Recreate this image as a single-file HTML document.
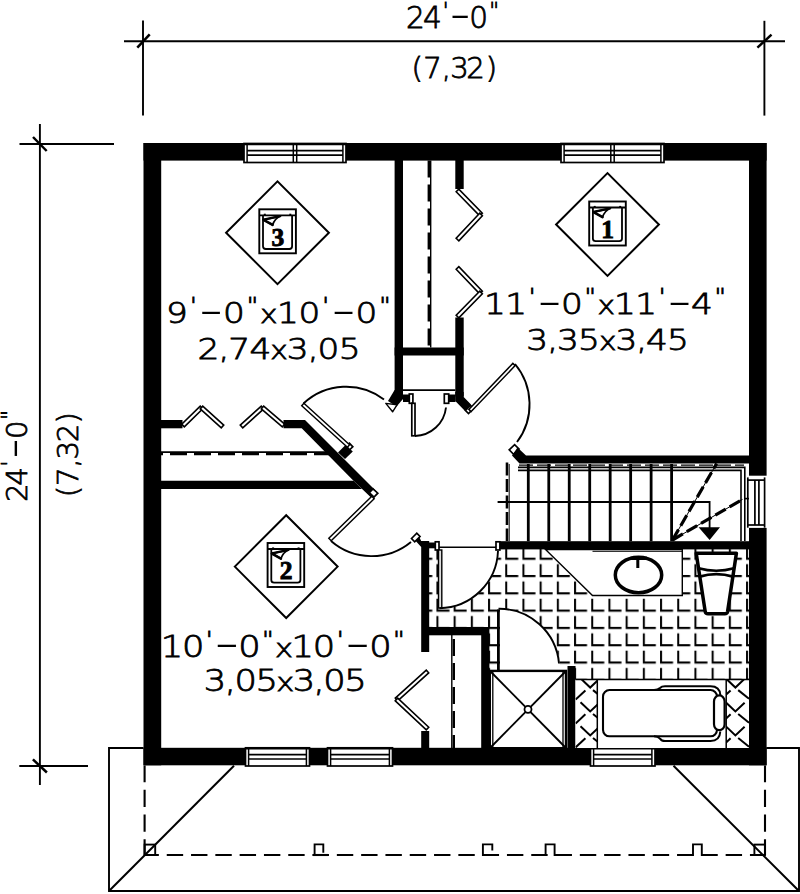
<!DOCTYPE html>
<html><head><meta charset="utf-8"><title>Floor plan</title>
<style>
html,body{margin:0;padding:0;background:#fff;}
svg{display:block;}
.t{font-family:"DejaVu Sans Light","DejaVu Sans","Liberation Sans",sans-serif;font-weight:200;fill:#000;stroke:#000;stroke-width:0.8;}
.n{font-family:"Liberation Serif",serif;font-weight:bold;fill:#000;}
</style></head><body>
<svg width="800" height="894" viewBox="0 0 800 894">
<rect x="0" y="0" width="800" height="894" fill="#fff"/>
<line x1="124" y1="41.2" x2="785" y2="41.2" stroke="#000" stroke-width="1.9" />
<line x1="143" y1="20.5" x2="143" y2="115.5" stroke="#000" stroke-width="1.9" />
<line x1="764.4" y1="20.8" x2="764.4" y2="115.6" stroke="#000" stroke-width="1.9" />
<line x1="137.3" y1="47.7" x2="149.7" y2="34.4" stroke="#000" stroke-width="2.5" />
<line x1="757.4" y1="47.7" x2="771.5" y2="34.6" stroke="#000" stroke-width="2.5" />
<line x1="39.9" y1="124" x2="39.9" y2="785" stroke="#000" stroke-width="1.9" />
<line x1="19.5" y1="144" x2="114" y2="144" stroke="#000" stroke-width="1.9" />
<line x1="19.3" y1="766" x2="88" y2="766" stroke="#000" stroke-width="1.9" />
<line x1="33" y1="137" x2="46.7" y2="151" stroke="#000" stroke-width="2.5" />
<line x1="32.9" y1="759.4" x2="46.9" y2="772.5" stroke="#000" stroke-width="2.5" />
<rect x="143.5" y="143" width="100.5" height="17.6" fill="#000" />
<rect x="346" y="143" width="215" height="17.6" fill="#000" />
<rect x="664" y="143" width="102.6" height="17.6" fill="#000" />
<rect x="143.5" y="747.8" width="102" height="17.5" fill="#000" />
<rect x="309.5" y="747.8" width="18" height="17.5" fill="#000" />
<rect x="392.5" y="747.8" width="198" height="17.5" fill="#000" />
<rect x="655" y="747.8" width="111.6" height="17.5" fill="#000" />
<rect x="143.5" y="143" width="17.7" height="622.3" fill="#000" />
<rect x="749" y="143" width="17.6" height="332.7" fill="#000" />
<rect x="749" y="527.9" width="17.6" height="237.4" fill="#000" />
<rect x="244" y="143.5" width="102" height="19" fill="#fff" stroke="#000" stroke-width="1.7" />
<line x1="244" y1="144.1" x2="346" y2="144.1" stroke="#000" stroke-width="2.4" />
<line x1="247.1" y1="143.5" x2="247.1" y2="162.5" stroke="#000" stroke-width="1.5" />
<line x1="342.9" y1="143.5" x2="342.9" y2="162.5" stroke="#000" stroke-width="1.5" />
<line x1="247.1" y1="150.625" x2="342.9" y2="150.625" stroke="#000" stroke-width="1.7" />
<line x1="247.1" y1="155.185" x2="342.9" y2="155.185" stroke="#000" stroke-width="1.7" />
<line x1="293.3" y1="143.5" x2="293.3" y2="162.5" stroke="#000" stroke-width="1.5" />
<line x1="296.7" y1="143.5" x2="296.7" y2="162.5" stroke="#000" stroke-width="1.5" />
<rect x="561" y="143.5" width="103" height="19" fill="#fff" stroke="#000" stroke-width="1.7" />
<line x1="561" y1="144.1" x2="664" y2="144.1" stroke="#000" stroke-width="2.4" />
<line x1="564.1" y1="143.5" x2="564.1" y2="162.5" stroke="#000" stroke-width="1.5" />
<line x1="660.9" y1="143.5" x2="660.9" y2="162.5" stroke="#000" stroke-width="1.5" />
<line x1="564.1" y1="150.625" x2="660.9" y2="150.625" stroke="#000" stroke-width="1.7" />
<line x1="564.1" y1="155.185" x2="660.9" y2="155.185" stroke="#000" stroke-width="1.7" />
<line x1="610.8" y1="143.5" x2="610.8" y2="162.5" stroke="#000" stroke-width="1.5" />
<line x1="614.2" y1="143.5" x2="614.2" y2="162.5" stroke="#000" stroke-width="1.5" />
<rect x="245.5" y="747.8" width="64" height="18.2" fill="#fff" stroke="#000" stroke-width="1.7" />
<line x1="245.5" y1="748.4" x2="309.5" y2="748.4" stroke="#000" stroke-width="2.4" />
<line x1="248.6" y1="747.8" x2="248.6" y2="766" stroke="#000" stroke-width="1.5" />
<line x1="306.4" y1="747.8" x2="306.4" y2="766" stroke="#000" stroke-width="1.5" />
<line x1="248.6" y1="754.625" x2="306.4" y2="754.625" stroke="#000" stroke-width="1.7" />
<line x1="248.6" y1="758.993" x2="306.4" y2="758.993" stroke="#000" stroke-width="1.7" />
<rect x="327.5" y="747.8" width="65" height="18.2" fill="#fff" stroke="#000" stroke-width="1.7" />
<line x1="327.5" y1="748.4" x2="392.5" y2="748.4" stroke="#000" stroke-width="2.4" />
<line x1="330.6" y1="747.8" x2="330.6" y2="766" stroke="#000" stroke-width="1.5" />
<line x1="389.4" y1="747.8" x2="389.4" y2="766" stroke="#000" stroke-width="1.5" />
<line x1="330.6" y1="754.625" x2="389.4" y2="754.625" stroke="#000" stroke-width="1.7" />
<line x1="330.6" y1="758.993" x2="389.4" y2="758.993" stroke="#000" stroke-width="1.7" />
<rect x="590.5" y="747.8" width="64.5" height="18.2" fill="#fff" stroke="#000" stroke-width="1.7" />
<line x1="590.5" y1="748.4" x2="655" y2="748.4" stroke="#000" stroke-width="2.4" />
<line x1="593.6" y1="747.8" x2="593.6" y2="766" stroke="#000" stroke-width="1.5" />
<line x1="651.9" y1="747.8" x2="651.9" y2="766" stroke="#000" stroke-width="1.5" />
<line x1="593.6" y1="754.625" x2="651.9" y2="754.625" stroke="#000" stroke-width="1.7" />
<line x1="593.6" y1="758.993" x2="651.9" y2="758.993" stroke="#000" stroke-width="1.7" />
<line x1="747.8" y1="477.4" x2="747.8" y2="527.7" stroke="#000" stroke-width="1.7" />
<line x1="764.6" y1="477.4" x2="764.6" y2="527.7" stroke="#000" stroke-width="1.7" />
<line x1="747.8" y1="480.1" x2="764.6" y2="480.1" stroke="#000" stroke-width="1.7" />
<line x1="747.8" y1="525" x2="764.6" y2="525" stroke="#000" stroke-width="1.7" />
<line x1="754.9" y1="480.1" x2="754.9" y2="525" stroke="#000" stroke-width="1.7" />
<line x1="758.9" y1="480.1" x2="758.9" y2="525" stroke="#000" stroke-width="1.7" />
<rect x="394.6" y="160" width="8.4" height="237.5" fill="#000" />
<rect x="455.3" y="160" width="8.4" height="29" fill="#000" />
<rect x="455.3" y="317.5" width="8.4" height="79" fill="#000" />
<rect x="394.6" y="347.5" width="69.1" height="8" fill="#000" />
<line x1="430.7" y1="160.6" x2="430.7" y2="347.5" stroke="#000" stroke-width="1.4" />
<line x1="428.8" y1="160.6" x2="428.8" y2="347.5" stroke="#000" stroke-width="2.4" stroke-dasharray="17 7"/>
<line x1="403" y1="390.2" x2="455.3" y2="390.2" stroke="#000" stroke-width="1.8" />
<polygon points="456.178,191.794 479.678,215.794 482.322,213.206 458.822,189.206" fill="#fff" stroke="#000" stroke-width="1.6" />
<polygon points="479.652,213.233 456.152,238.233 458.848,240.767 482.348,215.767" fill="#fff" stroke="#000" stroke-width="1.6" />
<polygon points="456.165,269.281 479.665,293.781 482.335,291.219 458.835,266.719" fill="#fff" stroke="#000" stroke-width="1.6" />
<polygon points="479.678,291.206 456.178,315.206 458.822,317.794 482.322,293.794" fill="#fff" stroke="#000" stroke-width="1.6" />
<rect x="161" y="420" width="21.5" height="8.3" fill="#000" />
<polygon points="184.29,426.826 202.79,408.826 200.21,406.174 181.71,424.174" fill="#fff" stroke="#000" stroke-width="1.6" />
<polygon points="200.259,408.872 221.259,427.872 223.741,425.128 202.741,406.128" fill="#fff" stroke="#000" stroke-width="1.6" />
<polygon points="242.741,427.872 263.741,408.872 261.259,406.128 240.259,425.128" fill="#fff" stroke="#000" stroke-width="1.6" />
<polygon points="261.296,408.905 282.296,426.905 284.704,424.095 263.704,406.095" fill="#fff" stroke="#000" stroke-width="1.6" />
<polygon points="283.5,420 305,420 377,492 371,497.5 353.5,480.7 301.7,428.3 283.5,428.3" fill="#000" />
<line x1="161" y1="452.2" x2="329" y2="452.2" stroke="#000" stroke-width="1.8" />
<line x1="161" y1="454.2" x2="329" y2="454.2" stroke="#000" stroke-width="2.2" stroke-dasharray="17 7" stroke-dashoffset="-9"/>
<polygon points="161,480.7 353.5,480.7 362,489 161,489" fill="#000" />
<polygon points="338,452.5 345.5,445 352.8,451.5 345,459" fill="#000" />
<polygon points="346.2,446.2 349.6,449.8 352.8,446.8 349.4,443.2" fill="#fff" stroke="#000" stroke-width="1.7" />
<polygon points="301.724,405.684 347.424,447.184 349.576,444.816 303.876,403.316" fill="#fff" stroke="#000" stroke-width="1.45" />
<path d="M303.5 403.5 A62.5 62.5 0 0 1 384 399.5" fill="none" stroke="#000" stroke-width="1.9" />
<polygon points="394.6,390 403,390 403,399 396.5,406.5 388,401" fill="#000" />
<polygon points="385.8,403.4 397,404.8 392.6,411.8" fill="#fff" stroke="#000" stroke-width="1.4" stroke-linejoin="round"/>
<polygon points="373,488.8 377.8,493.2 374,497 369.3,492.6" fill="#fff" stroke="#000" stroke-width="1.7" />
<polygon points="371.812,496.284 328.812,538.284 331.188,540.716 374.188,498.716" fill="#fff" stroke="#000" stroke-width="1.45" />
<path d="M331 541 A62 62 0 0 0 411 542" fill="none" stroke="#000" stroke-width="1.9" />
<polygon points="421.2,541 429.2,541 429.2,652 421.2,652 421.2,547 413,538 417.5,533.5" fill="#000" />
<polygon points="411.5,538.5 416.8,533.2 420,536.5 414.7,541.8" fill="#fff" stroke="#000" stroke-width="1.7" />
<rect x="403" y="394.5" width="6.3" height="7.5" fill="#000" />
<rect x="448.7" y="394.5" width="6.8" height="7.5" fill="#000" />
<rect x="409.3" y="394" width="3.6" height="9.3" fill="#fff" stroke="#000" stroke-width="1.7" />
<rect x="444.3" y="394" width="4.4" height="9.3" fill="#fff" stroke="#000" stroke-width="1.7" />
<rect x="411.8" y="403.3" width="3.2" height="32.5" fill="#fff" stroke="#000" stroke-width="1.7" />
<path d="M415 436 A32 32 0 0 0 446 407.5" fill="none" stroke="#000" stroke-width="1.9" />
<polygon points="455.3,392 463.7,392 463.7,397 471,404.5 465,411 455.3,401" fill="#000" />
<polygon points="465.5,410.5 470.5,405.5 473.5,408.5 468.5,413.5" fill="#fff" stroke="#000" stroke-width="1.7" />
<polygon points="471.156,411.606 515.156,365.606 512.844,363.394 468.844,409.394" fill="#fff" stroke="#000" stroke-width="1.45" />
<path d="M515 364 A63 63 0 0 1 517 442" fill="none" stroke="#000" stroke-width="1.9" />
<polygon points="509.2,449.8 514.6,444.6 519,449 513.6,454.3" fill="#fff" stroke="#000" stroke-width="1.7" />
<polygon points="517.5,447.5 526,455.6 749,455.6 749,463.5 519.5,463.5 512,455.5" fill="#000" />
<rect x="429" y="627" width="60" height="8.3" fill="#000" />
<rect x="481.2" y="627" width="8.2" height="121" fill="#000" />
<line x1="451.8" y1="635" x2="451.8" y2="748" stroke="#000" stroke-width="1.4" />
<line x1="453.8" y1="635" x2="453.8" y2="748" stroke="#000" stroke-width="2.4" stroke-dasharray="17 7" stroke-dashoffset="-4"/>
<rect x="421.2" y="731" width="8" height="17" fill="#000" />
<polygon points="426.293,670.164 395.293,698.164 397.707,700.836 428.707,672.836" fill="#fff" stroke="#000" stroke-width="1.6" />
<polygon points="395.27,700.814 426.27,729.814 428.73,727.186 397.73,698.186" fill="#fff" stroke="#000" stroke-width="1.6" />
<defs><pattern id="tile" x="418.25" y="543.25" width="17.2" height="17.3" patternUnits="userSpaceOnUse"><path d="M2 3.5V15.5H14" fill="none" stroke="#000" stroke-width="2"/></pattern><clipPath id="hl"><rect x="575.5" y="679.5" width="21.8" height="68.5"/></clipPath><clipPath id="hr"><rect x="726.2" y="679.5" width="22.8" height="68.5"/></clipPath></defs>
<polygon points="429,549 749,549 749,680 575,680 575,666 567.5,666 567.5,670.5 489,670.5 489,627 429,627" fill="url(#tile)" />
<path d="M441 549 V609 A61 61 0 0 0 499 549 Z" fill="#fff" stroke="none" stroke-width="1.4" />
<path d="M500 670.5 V609 A60 60 0 0 1 560 670.5 Z" fill="#fff" stroke="none" stroke-width="1.4" />
<rect x="500" y="541.2" width="249" height="8.2" fill="#000" />
<line x1="519" y1="465.1" x2="744" y2="465.1" stroke="#000" stroke-width="1.1" stroke-dasharray="14 4"/>
<line x1="528.3" y1="464" x2="528.3" y2="541.2" stroke="#000" stroke-width="2.8" />
<line x1="548.77" y1="464" x2="548.77" y2="541.2" stroke="#000" stroke-width="2.8" />
<line x1="569.24" y1="464" x2="569.24" y2="541.2" stroke="#000" stroke-width="2.8" />
<line x1="589.71" y1="464" x2="589.71" y2="541.2" stroke="#000" stroke-width="2.8" />
<line x1="610.18" y1="464" x2="610.18" y2="541.2" stroke="#000" stroke-width="2.8" />
<line x1="630.65" y1="464" x2="630.65" y2="541.2" stroke="#000" stroke-width="2.8" />
<line x1="651.12" y1="464" x2="651.12" y2="541.2" stroke="#000" stroke-width="2.8" />
<line x1="671.59" y1="464" x2="671.59" y2="541.2" stroke="#000" stroke-width="2.8" />
<line x1="509.2" y1="464" x2="509.2" y2="541" stroke="#000" stroke-width="1" />
<line x1="507" y1="462.5" x2="507" y2="541" stroke="#000" stroke-width="2.6" stroke-dasharray="13 3.5"/>
<path d="M518 467.4 H744.8 V541 M518 470.4 H741 V541" fill="none" stroke="#000" stroke-width="1.6" />
<line x1="744.8" y1="498.6" x2="749" y2="498.6" stroke="#000" stroke-width="1.6" />
<path d="M497.6 502 H709.6 V528" fill="none" stroke="#000" stroke-width="1.8" />
<polygon points="698.6,527.2 720,527.2 709.6,540" fill="#000" />
<line x1="672.5" y1="540" x2="716.6" y2="463.6" stroke="#000" stroke-width="1" />
<line x1="672.5" y1="540" x2="716.6" y2="463.6" stroke="#000" stroke-width="3.2" stroke-dasharray="12 4.5"/>
<line x1="672.5" y1="540" x2="742.5" y2="499.4" stroke="#000" stroke-width="1" />
<line x1="672.5" y1="540" x2="742.5" y2="499.4" stroke="#000" stroke-width="3.2" stroke-dasharray="12 4.5"/>
<line x1="439" y1="547.3" x2="496" y2="547.3" stroke="#000" stroke-width="1.6" />
<rect x="429" y="542.5" width="6.3" height="5.8" fill="#000" />
<rect x="435.3" y="541.8" width="3.7" height="8.2" fill="#fff" stroke="#000" stroke-width="1.7" />
<rect x="496" y="541.8" width="3.9" height="8.2" fill="#fff" stroke="#000" stroke-width="1.7" />
<rect x="438.5" y="550" width="3.3" height="58" fill="#ddd" stroke="#000" stroke-width="1.4" />
<path d="M439.5 608.2 A59.5 59.5 0 0 0 498 551" fill="none" stroke="#000" stroke-width="1.9" />
<polygon points="545.5,549.5 682.3,549.5 682.3,595.5 592.5,595.5" fill="#fff" stroke="#000" stroke-width="1.4" />
<line x1="592.5" y1="551.3" x2="682" y2="551.3" stroke="#000" stroke-width="1" />
<ellipse cx="638.5" cy="575" rx="23.2" ry="17.7" fill="#fff" stroke="#000" stroke-width="3.5"/>
<rect x="630.5" y="556.6" width="16.5" height="3.4" fill="#000" />
<rect x="636.3" y="559" width="3" height="9" fill="#000" />
<path d="M696.2 553.2 H736.4 L727.6 611.5 Q727.2 613.8 724.8 613.8 H708 Q705.6 613.8 705.2 611.5 Z" fill="#fff" stroke="#000" stroke-width="3.5" stroke-linejoin="round"/>
<path d="M698.6 568.2 Q716.3 573.3 734 568.2" fill="none" stroke="#000" stroke-width="2.6" />
<path d="M699.6 576.6 Q716.3 571.6 733 576.6" fill="none" stroke="#000" stroke-width="2.8" />
<rect x="567.5" y="666" width="8" height="82" fill="#000" />
<rect x="489.8" y="670.9" width="76.2" height="77.3" fill="#fff" stroke="#000" stroke-width="2.4" />
<line x1="492.8" y1="671" x2="492.8" y2="748" stroke="#000" stroke-width="1.3" />
<line x1="563" y1="671" x2="563" y2="748" stroke="#000" stroke-width="1.3" />
<line x1="490.5" y1="671.5" x2="565.5" y2="747.5" stroke="#000" stroke-width="1.9" />
<line x1="565.5" y1="671.5" x2="490.5" y2="747.5" stroke="#000" stroke-width="1.9" />
<circle cx="528" cy="709.3" r="3.5" fill="#fff" stroke="#000" stroke-width="1.8"/>
<line x1="498.4" y1="609.5" x2="498.4" y2="670.5" stroke="#000" stroke-width="2.8" />
<path d="M498.5 608.8 A60 60 0 0 1 559 663.5" fill="none" stroke="#000" stroke-width="1.9" />
<rect x="575.5" y="679.5" width="173.5" height="68.5" fill="#fff" />
<line x1="575.5" y1="679.5" x2="749" y2="679.5" stroke="#000" stroke-width="1.5" />
<line x1="597.3" y1="679.5" x2="597.3" y2="748" stroke="#000" stroke-width="1.5" />
<line x1="726.2" y1="679.5" x2="726.2" y2="748" stroke="#000" stroke-width="1.5" />
<g clip-path="url(#hl)" stroke="#000" stroke-width="2" fill="none">
<path d="M580.5 654.35 L590.2 663.55 L599.4 654.85"/>
<path d="M575.6 675.55 L585.4 666.45"/>
<path d="M593 666.15 L603.8 674.85"/>
<path d="M580.5 678.3 L590.2 687.5 L599.4 678.8"/>
<path d="M575.6 699.5 L585.4 690.4"/>
<path d="M593 690.1 L603.8 698.8"/>
<path d="M580.5 702.25 L590.2 711.45 L599.4 702.75"/>
<path d="M575.6 723.45 L585.4 714.35"/>
<path d="M593 714.05 L603.8 722.75"/>
<path d="M580.5 726.2 L590.2 735.4 L599.4 726.7"/>
<path d="M575.6 747.4 L585.4 738.3"/>
<path d="M593 738 L603.8 746.7"/>
<path d="M580.5 750.15 L590.2 759.35 L599.4 750.65"/>
<path d="M575.6 771.35 L585.4 762.25"/>
<path d="M593 761.95 L603.8 770.65"/>
</g>
<g clip-path="url(#hr)" stroke="#000" stroke-width="2" fill="none">
<path d="M725.7 654.35 L735.4 663.55 L744.6 654.85"/>
<path d="M720.8 675.55 L730.6 666.45"/>
<path d="M738.2 666.15 L749 674.85"/>
<path d="M725.7 678.3 L735.4 687.5 L744.6 678.8"/>
<path d="M720.8 699.5 L730.6 690.4"/>
<path d="M738.2 690.1 L749 698.8"/>
<path d="M725.7 702.25 L735.4 711.45 L744.6 702.75"/>
<path d="M720.8 723.45 L730.6 714.35"/>
<path d="M738.2 714.05 L749 722.75"/>
<path d="M725.7 726.2 L735.4 735.4 L744.6 726.7"/>
<path d="M720.8 747.4 L730.6 738.3"/>
<path d="M738.2 738 L749 746.7"/>
<path d="M725.7 750.15 L735.4 759.35 L744.6 750.65"/>
<path d="M720.8 771.35 L730.6 762.25"/>
<path d="M738.2 761.95 L749 770.65"/>
</g>
<rect x="603" y="690" width="114" height="46.3" rx="6.5" ry="6.5" fill="#fff" stroke="#000" stroke-width="2.1"/>
<path d="M654 690 Q658 690 660 688 Q661.6 686.3 665 686.3 H710.5 Q719.8 686.3 720.3 695" fill="none" stroke="#000" stroke-width="2" />
<path d="M654 736.3 Q658 736.3 660 738.6 Q661.6 741 665 741 H710.5 Q719.8 741 720.3 731.5" fill="none" stroke="#000" stroke-width="2" />
<rect x="714" y="695.4" width="10.6" height="34.8" rx="5.3" ry="6" fill="#fff" stroke="#000" stroke-width="2.2"/>
<path d="M143.5 748 H109 V891 H799 V748 H766.3" fill="none" stroke="#000" stroke-width="1.9" />
<line x1="109" y1="891" x2="234" y2="765.8" stroke="#000" stroke-width="2" />
<line x1="799" y1="891" x2="673.5" y2="765.8" stroke="#000" stroke-width="2" />
<line x1="144.6" y1="765.5" x2="144.6" y2="855.2" stroke="#000" stroke-width="2.1" stroke-dasharray="17.25 7.5" stroke-dashoffset="0.5"/>
<line x1="765" y1="765.5" x2="765" y2="855.2" stroke="#000" stroke-width="2.1" stroke-dasharray="17.25 7.5" stroke-dashoffset="0.5"/>
<line x1="144.6" y1="855" x2="765" y2="855" stroke="#000" stroke-width="2.1" stroke-dasharray="16.4 7.9" stroke-dashoffset="2.15"/>
<rect x="144.6" y="844.6" width="10.6" height="10.4" fill="none" stroke="#000" stroke-width="1.9" />
<rect x="754.4" y="844.6" width="10.6" height="10.4" fill="none" stroke="#000" stroke-width="1.9" />
<path d="M314.6 855 V844.4 H323.3 V852.8" fill="none" stroke="#000" stroke-width="1.9" />
<line x1="312.7" y1="855" x2="328.5" y2="855" stroke="#000" stroke-width="2.1" />
<path d="M492.3 850.5 V844.4 H482.9 V855 H494.5" fill="none" stroke="#000" stroke-width="1.9" />
<path d="M534 855 H545.6 V844.4 H554.6 V855 H568" fill="none" stroke="#000" stroke-width="1.9" />
<path d="M679 855 H693 V844.4 H701.8 V855 H716" fill="none" stroke="#000" stroke-width="1.9" />
<polygon points="226.1,232.7 277.5,181.3 328.9,232.7 277.5,284.1" fill="none" stroke="#000" stroke-width="2" />
<rect x="259.3" y="209.3" width="36.6" height="44" fill="#fff" stroke="#000" stroke-width="1.9" />
<line x1="259.3" y1="215.3" x2="295.9" y2="215.3" stroke="#000" stroke-width="1.8" />
<path d="M263 215.3 V246.3 Q263 249 265.8 249 H289.3 Q292.1 249 292.1 246.3 V215.3" fill="none" stroke="#000" stroke-width="1.8" />
<line x1="264.8" y1="213.7" x2="264.8" y2="215.3" stroke="#000" stroke-width="2" />
<line x1="290.3" y1="213.7" x2="290.3" y2="215.3" stroke="#000" stroke-width="2" />
<path d="M263.6 219.9 L280.3 216.1 Q274.8 218.8 272.6 224.9 Z" fill="#fff" stroke="#000" stroke-width="1.7" stroke-linejoin="round"/>
<path d="M263.6 219.9 L272.6 224.9" fill="none" stroke="#000" stroke-width="2.6" stroke-linecap="round"/>
<path d="M263.6 219.7 L280.3 216.1" fill="none" stroke="#000" stroke-width="2.2" stroke-linecap="round"/>
<text class="n" x="277.8" y="245.5" font-size="25.5" text-anchor="middle" stroke="#000" stroke-width="0.9">3</text>
<polygon points="556.1,224.5 607.5,173.1 658.9,224.5 607.5,275.9" fill="none" stroke="#000" stroke-width="2" />
<rect x="589.2" y="201.5" width="36.6" height="44" fill="#fff" stroke="#000" stroke-width="1.9" />
<line x1="589.2" y1="207.5" x2="625.8" y2="207.5" stroke="#000" stroke-width="1.8" />
<path d="M592.9 207.5 V238.5 Q592.9 241.2 595.7 241.2 H619.2 Q622 241.2 622 238.5 V207.5" fill="none" stroke="#000" stroke-width="1.8" />
<line x1="594.7" y1="205.9" x2="594.7" y2="207.5" stroke="#000" stroke-width="2" />
<line x1="620.2" y1="205.9" x2="620.2" y2="207.5" stroke="#000" stroke-width="2" />
<path d="M593.5 212.1 L610.2 208.3 Q604.7 211 602.5 217.1 Z" fill="#fff" stroke="#000" stroke-width="1.7" stroke-linejoin="round"/>
<path d="M593.5 212.1 L602.5 217.1" fill="none" stroke="#000" stroke-width="2.6" stroke-linecap="round"/>
<path d="M593.5 211.9 L610.2 208.3" fill="none" stroke="#000" stroke-width="2.2" stroke-linecap="round"/>
<text class="n" x="607.7" y="237.7" font-size="25.5" text-anchor="middle" stroke="#000" stroke-width="0.9">1</text>
<polygon points="234.8,566.6 286.2,515.2 337.6,566.6 286.2,618" fill="none" stroke="#000" stroke-width="2" />
<rect x="267.6" y="543" width="36.6" height="44" fill="#fff" stroke="#000" stroke-width="1.9" />
<line x1="267.6" y1="549" x2="304.2" y2="549" stroke="#000" stroke-width="1.8" />
<path d="M271.3 549 V580 Q271.3 582.7 274.1 582.7 H297.6 Q300.4 582.7 300.4 580 V549" fill="none" stroke="#000" stroke-width="1.8" />
<line x1="273.1" y1="547.4" x2="273.1" y2="549" stroke="#000" stroke-width="2" />
<line x1="298.6" y1="547.4" x2="298.6" y2="549" stroke="#000" stroke-width="2" />
<path d="M271.9 553.6 L288.6 549.8 Q283.1 552.5 280.9 558.6 Z" fill="#fff" stroke="#000" stroke-width="1.7" stroke-linejoin="round"/>
<path d="M271.9 553.6 L280.9 558.6" fill="none" stroke="#000" stroke-width="2.6" stroke-linecap="round"/>
<path d="M271.9 553.4 L288.6 549.8" fill="none" stroke="#000" stroke-width="2.2" stroke-linecap="round"/>
<text class="n" x="286.1" y="579.2" font-size="25.5" text-anchor="middle" stroke="#000" stroke-width="0.9">2</text>
<text class="t" font-size="29.6" text-anchor="middle" transform="scale(1 1)"><tspan x="415.50" y="28">2</tspan><tspan x="432.30" y="28">4</tspan><tspan x="445.70" y="17.79" font-size="21.3">&#39;</tspan><tspan x="460.20" y="32.86" font-size="57.7" stroke-width="0.1">-</tspan><tspan x="478.70" y="28">0</tspan><tspan x="494.20" y="17.79" font-size="21.3">&quot;</tspan></text>
<text class="t" font-size="29.2" text-anchor="middle" transform="scale(1 1)"><tspan x="417.20" y="77.6">(</tspan><tspan x="432.60" y="77.6">7</tspan><tspan x="446.40" y="77.6">,</tspan><tspan x="459.50" y="77.6">3</tspan><tspan x="475.60" y="77.6">2</tspan><tspan x="491.40" y="77.6">)</tspan></text>
<text class="t" font-size="29.2" text-anchor="middle" transform="translate(27 0) rotate(-90) scale(1 1)"><tspan x="-492.80" y="0">2</tspan><tspan x="-476.40" y="0">4</tspan><tspan x="-463.50" y="-10.07" font-size="21.0">&#39;</tspan><tspan x="-448.40" y="4.80" font-size="56.9" stroke-width="0.1">-</tspan><tspan x="-429.80" y="0">0</tspan><tspan x="-415.00" y="-10.07" font-size="21.0">&quot;</tspan></text>
<text class="t" font-size="29.2" text-anchor="middle" transform="translate(77.8 0) rotate(-90) scale(1 1)"><tspan x="-491.50" y="0">(</tspan><tspan x="-476.60" y="0">7</tspan><tspan x="-463.20" y="0">,</tspan><tspan x="-450.20" y="0">3</tspan><tspan x="-433.00" y="0">2</tspan><tspan x="-417.80" y="0">)</tspan></text>
<text class="t" font-size="28.6" text-anchor="middle" transform="scale(1.2 1)"><tspan x="147.50" y="323.2">9</tspan><tspan x="161.12" y="313.33" font-size="20.6">&#39;</tspan><tspan x="175.87" y="327.90" font-size="55.8" stroke-width="0.1">-</tspan><tspan x="194.96" y="323.2">0</tspan><tspan x="210.48" y="313.33" font-size="20.6">&quot;</tspan><tspan x="223.97" y="323.2" font-size="24.6">x</tspan><tspan x="239.90" y="323.2">1</tspan><tspan x="257.86" y="323.2">0</tspan><tspan x="271.47" y="313.33" font-size="20.6">&#39;</tspan><tspan x="286.23" y="327.90" font-size="55.8" stroke-width="0.1">-</tspan><tspan x="305.32" y="323.2">0</tspan><tspan x="320.83" y="313.33" font-size="20.6">&quot;</tspan></text>
<text class="t" font-size="28.6" text-anchor="middle" transform="scale(1.2 1)"><tspan x="173.75" y="358.8">2</tspan><tspan x="186.57" y="358.8">,</tspan><tspan x="199.39" y="358.8">7</tspan><tspan x="216.96" y="358.8">4</tspan><tspan x="232.54" y="358.8" font-size="24.6">x</tspan><tspan x="248.13" y="358.8">3</tspan><tspan x="260.95" y="358.8">,</tspan><tspan x="273.77" y="358.8">0</tspan><tspan x="291.33" y="358.8">5</tspan></text>
<text class="t" font-size="28.6" text-anchor="middle" transform="scale(1.2 1)"><tspan x="412.42" y="314.2">1</tspan><tspan x="430.05" y="314.2">1</tspan><tspan x="443.42" y="304.33" font-size="20.6">&#39;</tspan><tspan x="457.91" y="318.90" font-size="55.8" stroke-width="0.1">-</tspan><tspan x="476.66" y="314.2">0</tspan><tspan x="491.89" y="304.33" font-size="20.6">&quot;</tspan><tspan x="505.13" y="314.2" font-size="24.6">x</tspan><tspan x="520.78" y="314.2">1</tspan><tspan x="538.41" y="314.2">1</tspan><tspan x="551.78" y="304.33" font-size="20.6">&#39;</tspan><tspan x="566.27" y="318.90" font-size="55.8" stroke-width="0.1">-</tspan><tspan x="585.02" y="314.2">4</tspan><tspan x="600.25" y="304.33" font-size="20.6">&quot;</tspan></text>
<text class="t" font-size="28.6" text-anchor="middle" transform="scale(1.2 1)"><tspan x="447.75" y="349.7">3</tspan><tspan x="460.54" y="349.7">,</tspan><tspan x="473.32" y="349.7">3</tspan><tspan x="490.83" y="349.7">5</tspan><tspan x="506.38" y="349.7" font-size="24.6">x</tspan><tspan x="521.92" y="349.7">3</tspan><tspan x="534.70" y="349.7">,</tspan><tspan x="547.49" y="349.7">4</tspan><tspan x="565.00" y="349.7">5</tspan></text>
<text class="t" font-size="29.4" text-anchor="middle" transform="scale(1.2 1)"><tspan x="143.25" y="657.4">1</tspan><tspan x="161.00" y="657.4">0</tspan><tspan x="174.46" y="647.26" font-size="21.2">&#39;</tspan><tspan x="189.04" y="662.23" font-size="57.3" stroke-width="0.1">-</tspan><tspan x="207.92" y="657.4">0</tspan><tspan x="223.25" y="647.26" font-size="21.2">&quot;</tspan><tspan x="236.58" y="657.4" font-size="25.3">x</tspan><tspan x="252.33" y="657.4">1</tspan><tspan x="270.08" y="657.4">0</tspan><tspan x="283.54" y="647.26" font-size="21.2">&#39;</tspan><tspan x="298.12" y="662.23" font-size="57.3" stroke-width="0.1">-</tspan><tspan x="317.00" y="657.4">0</tspan><tspan x="332.33" y="647.26" font-size="21.2">&quot;</tspan></text>
<text class="t" font-size="29.4" text-anchor="middle" transform="scale(1.2 1)"><tspan x="179.17" y="691.4">3</tspan><tspan x="191.93" y="691.4">,</tspan><tspan x="204.70" y="691.4">0</tspan><tspan x="222.19" y="691.4">5</tspan><tspan x="237.71" y="691.4" font-size="25.3">x</tspan><tspan x="253.23" y="691.4">3</tspan><tspan x="265.99" y="691.4">,</tspan><tspan x="278.76" y="691.4">0</tspan><tspan x="296.25" y="691.4">5</tspan></text>
</svg>
</body></html>
